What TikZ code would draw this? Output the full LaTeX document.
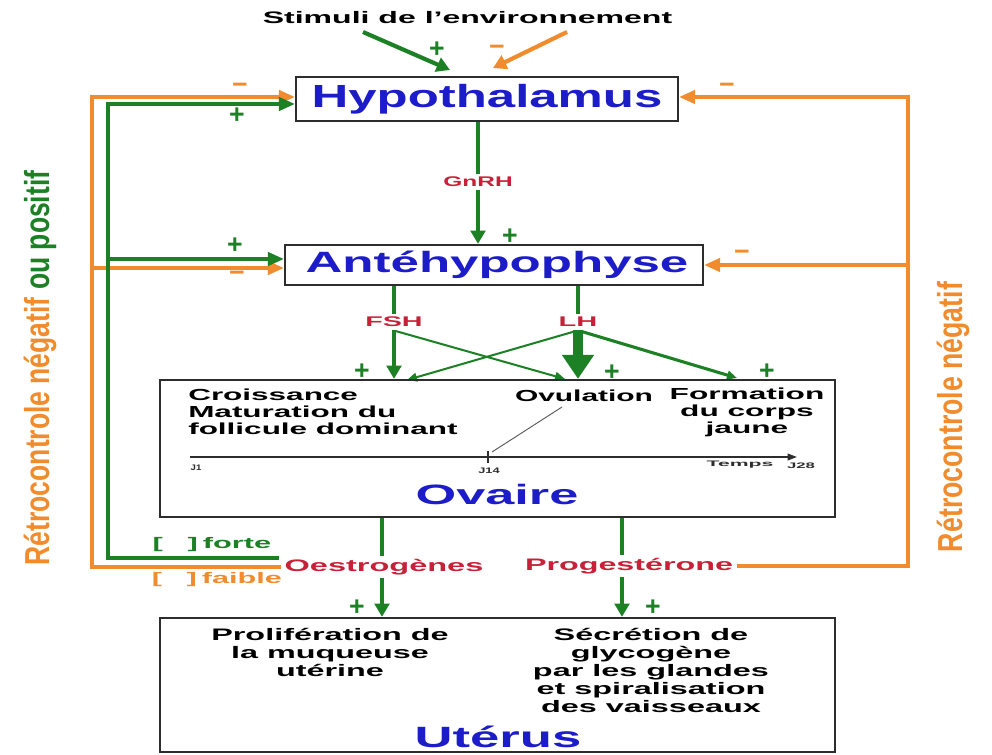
\documentclass[tikz,border=0pt]{standalone}
\usepackage{fontspec}
\setmainfont{Liberation Sans}
\usepackage{graphicx}
\usetikzlibrary{arrows.meta}
\pgfdeclarelayer{bg}
\pgfsetlayers{bg,main}
\definecolor{gr}{RGB}{28,128,36}
\definecolor{orng}{RGB}{240,140,45}
\definecolor{rd}{RGB}{200,32,56}
\definecolor{bl}{RGB}{28,28,200}
\definecolor{bx}{RGB}{45,45,45}
\newcommand\fw[2]{\resizebox{#1pt}{\height}{#2}}
\tikzset{
  box/.style={draw=bx,line width=1.7pt,inner sep=0pt},
  ttl/.style={text=bl,inner sep=0pt},
  hlab/.style={text=rd,fill=white,inner sep=2.5pt,font=\bfseries\fontsize{10.5}{10.5}\selectfont},
  hlabb/.style={text=rd,fill=white,inner sep=2.5pt,font=\bfseries\fontsize{12.5}{12.5}\selectfont},
  otxt/.style={inner sep=0pt,font=\bfseries\fontsize{12}{12.75}\selectfont},
  utxt/.style={inner sep=0pt,font=\bfseries\fontsize{12.5}{13.5}\selectfont},
  tinylab/.style={inner sep=0pt,font=\bfseries\fontsize{6}{6}\selectfont,text=bx},
  pl/.style={text=gr,inner sep=0pt,font=\bfseries\fontsize{20}{20}\selectfont},
  mi/.style={text=orng,inner sep=0pt,font=\bfseries\fontsize{20}{20}\selectfont},
  garr/.style={draw=gr,line width=3.1pt,-{Triangle[width=11pt,length=10pt]}},
  oarr/.style={draw=orng,line width=3.1pt,-{Triangle[width=11pt,length=10pt]}},
  gthin/.style={draw=gr,line width=1.5pt,-{Triangle[width=6.5pt,length=7.5pt]}},
  gfb/.style={draw=gr,line width=2.6pt,-{Triangle[width=10pt,length=12pt]}},
  ofb/.style={draw=orng,line width=2.6pt,-{Triangle[width=10pt,length=12pt]}},
  rottxt/.style={rotate=90,inner sep=0pt,font=\bfseries\fontsize{26}{26}\selectfont},
}
\begin{document}
\begin{tikzpicture}[x=0.75pt,y=-0.75pt]
\begin{pgfonlayer}{bg}
\fill[white] (0,0) rectangle (992,755);
\end{pgfonlayer}
\useasboundingbox (0,0) rectangle (992,755);

% boxes and titles
\node[box,minimum width=286.5pt,minimum height=33pt] (hyp) at (487,99) {};
\node[ttl,font=\bfseries\fontsize{24}{24}\selectfont] (hypt) at (487,99) {\fw{263}{Hypothalamus}};
\node[box,minimum width=313.5pt,minimum height=30pt] (ant) at (494,265) {};
\node[ttl,font=\bfseries\fontsize{22}{22}\selectfont] (antt) at (497,265) {\fw{287}{Antéhypophyse}};
\node[box,minimum width=506.25pt,minimum height=102.75pt] (ova) at (497.5,448.5) {};
\node[ttl,font=\bfseries\fontsize{21}{21}\selectfont] (ovat) at (497,494) {\fw{122}{Ovaire}};
\node[box,minimum width=506.25pt,minimum height=100.5pt] (ute) at (497.5,685) {};
\node[ttl,font=\bfseries\fontsize{22}{22}\selectfont] (utet) at (498,737) {\fw{125}{Utérus}};

% top text
\node[inner sep=0pt,font=\bfseries\fontsize{12.5}{12.5}\selectfont] (stim) at (467.5,18) {\fw{307}{Stimuli de l'environnement}};

% hormone labels
\node[hlab] (gnrh) at (478,182) {\fw{52}{GnRH}};
\node[hlab] (fsh) at (394,322) {\fw{43}{FSH}};
\node[hlab] (lh) at (578,322) {\fw{29}{LH}};
\node[hlabb] (oes) at (384,567) {\fw{149}{Oestrogènes}};
\node[hlabb] (prog) at (629,566) {\fw{156}{Progestérone}};

\node[inner sep=1pt,text=gr,font=\bfseries\fontsize{11.5}{11.5}\selectfont] (forte) at (212,545) {\fw{89}{[\hspace{0.8em}]\,forte}};
\node[inner sep=1pt,text=orng,font=\bfseries\fontsize{11.5}{11.5}\selectfont] (faible) at (217,580) {\fw{97.5}{[\hspace{0.8em}]\,faible}};

% ovary texts
\node[otxt,anchor=west] (cro) at (188,414) {\fw{202}{\begin{tabular}{@{}l@{}}Croissance\\Maturation du\\follicule dominant\end{tabular}}};
\node[otxt] (ovu) at (584,396) {\fw{103.5}{Ovulation}};
\node[otxt] (form) at (747,413) {\fw{116}{\begin{tabular}{@{}c@{}}Formation\\du corps\\jaune\end{tabular}}};
\node[tinylab] (jone) at (196,468) {\fw{8}{J1}};
\node[tinylab] (jfourteen) at (489,471) {\fw{16}{J14}};
\node[tinylab] (temps) at (740,465) {\fw{50}{Temps}};
\node[tinylab] (jtwentyeight) at (801,466) {\fw{21}{J28}};

% uterus texts
\node[utxt] (prolif) at (330,655) {\fw{178}{\begin{tabular}{@{}c@{}}Prolifération de\\la muqueuse\\utérine\end{tabular}}};
\node[utxt] (secr) at (651,673) {\fw{177}{\begin{tabular}{@{}c@{}}Sécrétion de\\glycogène\\par les glandes\\et spiralisation\\des vaisseaux\end{tabular}}};

% rotated side texts
\node[rottxt] (rl) at (40,368) {\fw{296}{\textcolor{orng}{Rétrocontrole négatif} \textcolor{gr}{ou positif}}};
\node[rottxt,text=orng] (rr) at (953,417) {\fw{202.5}{Rétrocontrole négatif}};

% signs
\node[pl] (p1) at (437,50) {+}; \node[mi] (m1) at (497,50) {−};
\node[mi] (m2) at (240,88) {−}; \node[pl] (p2) at (237,116) {+};
\node[pl] (p3) at (235,246) {+}; \node[mi] (m3) at (237,276) {−};
\node[mi] (m4) at (727,88) {−}; \node[mi] (m5) at (742,255) {−};
\node[pl] (p4) at (510,237) {+};
\node[pl] (p5) at (362,372) {+}; \node[pl] (p6) at (612,373) {+}; \node[pl] (p7) at (767,372) {+};
\node[pl] (p8) at (357,608) {+}; \node[pl] (p9) at (653,608) {+};

\begin{pgfonlayer}{bg}
% stimuli
\coordinate (sg) at (363,32); \coordinate (sge) at (450,70);
\coordinate (so) at (567,32); \coordinate (soe) at (493,68);
\draw[garr] (sg) -- (sge);
\draw[oarr] (so) -- (soe);
% axis
\draw[garr] (hyp.south -| gnrh) -- (ant.north -| gnrh);
\draw[garr] (ant.south -| fsh) -- (ova.north -| fsh);
\draw[draw=gr,line width=3.1pt] (ant.south -| lh) -- (lh.north);
\draw[draw=gr,line width=8pt,-{Triangle[width=23pt,length=18pt]}] (lh.south) -- (ova.north -| lh);
\coordinate (dA) at (565,379); \coordinate (dB) at (407,380); \coordinate (dC) at (737,378);
\draw[gthin] (fsh.south) -- (dA);
\draw[gthin] (lh.south) -- (dB);
\draw[gthin,line width=2.3pt] (lh.south) -- (dC);
% timeline
\coordinate (tz) at (190,457); \coordinate (te) at (797,457);
\draw[bx,line width=1.1pt,-{Triangle[width=5pt,length=7pt]}] (tz) -- (te);
\draw[bx,line width=1.1pt] (488,451) -- (488,463);
\coordinate (ovp) at (562,407);
\draw[black!65,line width=0.7pt] (492,452) -- (ovp);
% ovary -> uterus
\coordinate (ex) at (382,0); \coordinate (px) at (622,0);
\draw[garr] (ova.south -| ex) -- (ute.north -| ex);
\draw[garr] (ova.south -| px) -- (ute.north -| px);
% left feedback
\coordinate (oTL) at (92,97); \coordinate (oML) at (92,268);
\coordinate (gS) at (279,558); \coordinate (gTL) at (108,104); \coordinate (gML) at (108,259);
\draw[ofb] (oes.west) -| (oTL) -- (oTL -| hyp.west);
\draw[ofb] (oML) -- (oML -| ant.west);
\draw[gfb] (gS) -| (gTL) -- (gTL -| hyp.west);
\draw[gfb] (gML) -- (gML -| ant.west);
% right feedback
\coordinate (oTR) at (908,97); \coordinate (oMR) at (908,265);
\draw[ofb] (prog.east) -| (oTR) -- (oTR -| hyp.east);
\draw[ofb] (oMR) -- (oMR -| ant.east);
\end{pgfonlayer}
\end{tikzpicture}
\end{document}
